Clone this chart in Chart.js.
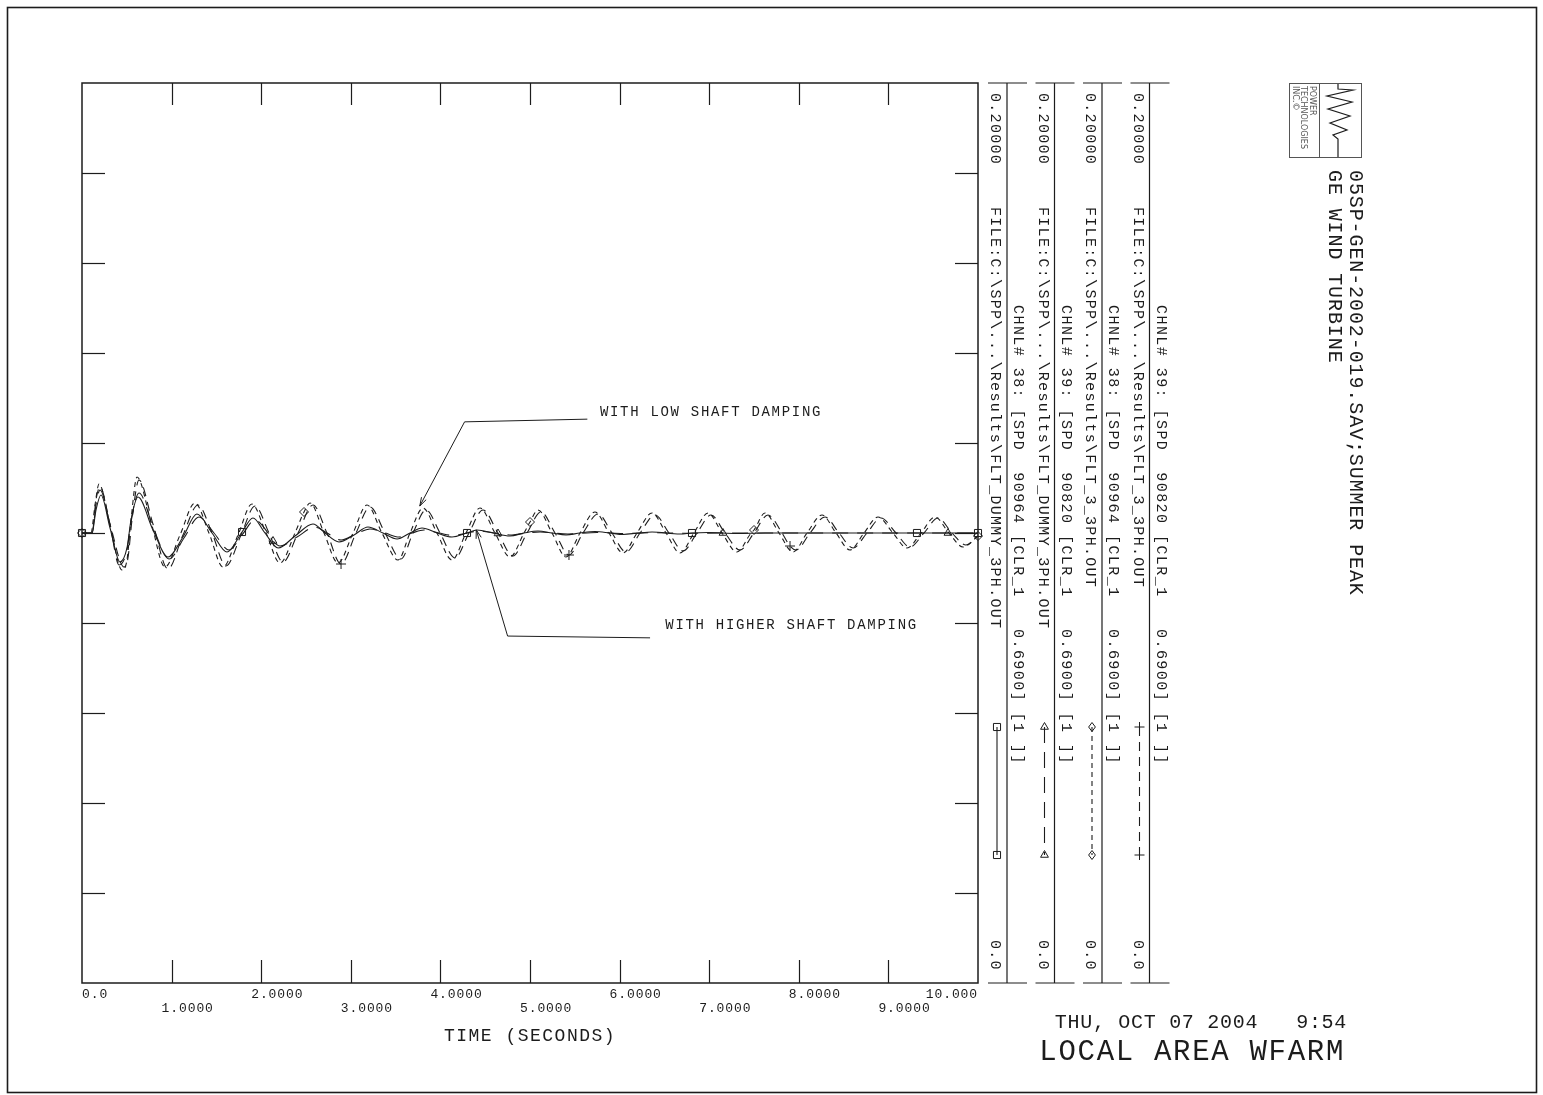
<!DOCTYPE html>
<html><head><meta charset="utf-8">
<script src="https://cdn.jsdelivr.net/npm/chart.js@4.4.1/dist/chart.umd.min.js"></script>
<style>html,body{margin:0;padding:0;background:#fff;}canvas{display:block;}</style>
</head><body>
<canvas id="c" width="1543" height="1095" style="width:1543px;height:1095px"></canvas>
<script>
// ---------- DATA (time in seconds, speed value) ----------
const xTickLabels = ['0.0','1.0000','2.0000','3.0000','4.0000','5.0000','6.0000','7.0000','8.0000','9.0000','10.000'];
const xAxisTitle = 'TIME (SECONDS)';
const titleLines = ['05SP-GEN-2002-019.SAV;SUMMER PEAK', 'GE WIND TURBINE'];
const footerDate = 'THU, OCT 07 2004   9:54';
const footerTitle = 'LOCAL AREA WFARM';
const seriesFiles = ['FILE:C:\\SPP\\...\\Results\\FLT_DUMMY_3PH.OUT','FILE:C:\\SPP\\...\\Results\\FLT_DUMMY_3PH.OUT','FILE:C:\\SPP\\...\\Results\\FLT_3_3PH.OUT','FILE:C:\\SPP\\...\\Results\\FLT_3_3PH.OUT'];
const seriesChannels = ['CHNL# 38: [SPD  90964 [CLR_1   0.6900] [1 ]]','CHNL# 39: [SPD  90820 [CLR_1   0.6900] [1 ]]','CHNL# 38: [SPD  90964 [CLR_1   0.6900] [1 ]]','CHNL# 39: [SPD  90820 [CLR_1   0.6900] [1 ]]'];
const annotationTexts = ['WITH LOW SHAFT DAMPING','WITH HIGHER SHAFT DAMPING'];

// FLT_DUMMY, channel 38 (solid, squares)
const chan38Dummy = [[0,0.1],[0.112,0.1],[0.156,0.10511],[0.212,0.10844],[0.313,0.10111],[0.424,0.09356],[0.502,0.09667],[0.547,0.10289],[0.625,0.108],[0.792,0.10067],[0.960,0.09467],[1.127,0.09911],[1.283,0.10422],[1.451,0.1],[1.618,0.09578],[1.786,0.10022],[1.908,0.10333],[2.042,0.1],[2.188,0.09667],[2.377,0.09933],[2.578,0.102],[2.712,0.1],[2.868,0.098],[3.036,0.09956],[3.192,0.10133],[3.359,0.1],[3.516,0.09867],[3.661,0.1],[3.795,0.10111],[3.962,0.1],[4.129,0.09911],[4.297,0.1],[4.408,0.10067],[4.587,0.1],[4.777,0.09933],[4.933,0.1],[5.089,0.10044],[5.246,0.1],[5.402,0.09956],[5.558,0.1],[5.725,0.10033],[5.893,0.1],[6.038,0.09967],[6.205,0.1],[6.362,0.10022],[6.674,0.09978],[6.808,0.1],[6.987,0.10011],[7.310,0.09989],[7.623,0.1],[9.319,0.1],[10,0.1]];
const marks38Dummy = [0,1.786,4.297,6.808,9.319,10];

// FLT_DUMMY, channel 39 (long dash, triangles)
const chan39Dummy = [[0,0.1],[0.112,0.1],[0.156,0.10622],[0.201,0.10956],[0.313,0.10178],[0.413,0.09289],[0.502,0.09622],[0.547,0.10244],[0.636,0.10889],[0.804,0.10067],[0.971,0.09422],[1.138,0.09889],[1.306,0.10356],[1.473,0.1],[1.641,0.09622],[1.786,0.09956],[1.931,0.10289],[2.076,0.1],[2.132,0.09822],[2.210,0.09711],[2.400,0.09911],[2.600,0.10133],[2.734,0.1],[2.891,0.09844],[3.058,0.09978],[3.214,0.10089],[3.382,0.1],[3.538,0.09911],[3.683,0.1],[3.817,0.10067],[3.984,0.1],[4.152,0.09944],[4.297,0.1],[4.431,0.10044],[4.609,0.1],[4.643,0.09989],[4.799,0.09956],[4.955,0.1],[5.112,0.10022],[5.424,0.09978],[5.748,0.10011],[6.060,0.09989],[6.384,0.10007],[6.696,0.09993],[7.154,0.1],[7.344,0.1],[9.665,0.1],[10,0.1]];
const marks39Dummy = [2.132,4.643,7.154,9.665];

// FLT_3, channel 38 (short dash, diamonds)
const chan38Flt3 = [[0,0.1],[0.1,0.1],[0.145,0.10622],[0.190,0.11089],[0.313,0.10178],[0.446,0.09178],[0.502,0.094],[0.547,0.10289],[0.614,0.11244],[0.770,0.10244],[0.926,0.09244],[1.094,0.09956],[1.261,0.10667],[1.417,0.1],[1.574,0.09244],[1.741,0.09956],[1.897,0.10644],[2.054,0.1],[2.210,0.09333],[2.377,0.1],[2.478,0.10467],[2.545,0.10667],[2.701,0.1],[2.857,0.09333],[3.025,0.1],[3.181,0.10622],[3.348,0.1],[3.527,0.094],[3.661,0.1],[3.806,0.10556],[3.962,0.1],[4.129,0.094],[4.286,0.1],[4.442,0.10556],[4.609,0.1],[4.777,0.09467],[4.933,0.1],[5.0,0.10244],[5.089,0.10511],[5.246,0.1],[5.402,0.09467],[5.558,0.1],[5.725,0.10467],[5.882,0.1],[6.038,0.09556],[6.194,0.1],[6.362,0.10444],[6.518,0.1],[6.674,0.09556],[6.830,0.1],[6.987,0.10444],[7.143,0.1],[7.310,0.09578],[7.467,0.1],[7.5,0.10067],[7.623,0.10444],[7.779,0.1],[7.935,0.09578],[8.092,0.1],[8.259,0.104],[8.415,0.1],[8.571,0.09622],[8.728,0.1],[8.884,0.10356],[9.051,0.1],[9.208,0.09667],[9.364,0.1],[9.520,0.10356],[9.676,0.1],[9.833,0.09689],[10,0.09933]];
const marks38Flt3 = [0,2.478,5.0,7.5,10];

// FLT_3, channel 39 (dash, plus)
const chan39Flt3 = [[0,0.1],[0.112,0.1],[0.156,0.10733],[0.201,0.11022],[0.324,0.10111],[0.469,0.09244],[0.513,0.09444],[0.558,0.10289],[0.636,0.11178],[0.792,0.102],[0.960,0.092],[1.127,0.09956],[1.295,0.10622],[1.451,0.1],[1.607,0.09267],[1.775,0.09956],[1.931,0.106],[2.087,0.1],[2.243,0.09356],[2.411,0.1],[2.578,0.10622],[2.734,0.1],[2.891,0.09311],[3.058,0.1],[3.214,0.10578],[3.382,0.1],[3.560,0.09422],[3.694,0.1],[3.839,0.10511],[3.996,0.1],[4.163,0.09444],[4.319,0.1],[4.475,0.10511],[4.643,0.1],[4.810,0.09489],[4.967,0.1],[5.123,0.10467],[5.279,0.1],[5.435,0.09511],[5.592,0.1],[5.759,0.10422],[5.915,0.1],[6.071,0.09578],[6.228,0.1],[6.395,0.104],[6.551,0.1],[6.708,0.096],[6.864,0.1],[7.020,0.104],[7.176,0.1],[7.344,0.09622],[7.5,0.1],[7.656,0.104],[7.813,0.1],[7.902,0.09711],[7.969,0.09622],[8.125,0.1],[8.292,0.10356],[8.449,0.1],[8.605,0.09667],[8.761,0.1],[8.917,0.10333],[9.085,0.1],[9.241,0.09689],[9.397,0.1],[9.554,0.10333],[9.710,0.1],[9.866,0.09733],[10,0.09933]];
const marks39Flt3 = [2.891,5.435,7.902];

const yMin = 0.0, yMax = 0.2;

// annotation anchors in data units: [time, value]
const annLowPath = [[5.64,0.1253],[4.27,0.1247],[3.77,0.1060]];
const annLowText = [5.78,0.1269];
const annHighPath = [[6.34,0.0767],[4.75,0.0771],[4.40,0.1007]];
const annHighText = [6.51,0.0796];

// ---------- STYLE ----------
const INK = '#1c1c1c';
const styles = [
  {pt:'rect', dash:[], r:5},
  {pt:'triangle', dash:[16,9], r:4.5},
  {pt:'rectRot', dash:[5,4], r:4.5},
  {pt:'cross', dash:[9,6], r:5}
];
const allSeries = [chan38Dummy, chan39Dummy, chan38Flt3, chan39Flt3];
const allMarks = [marks38Dummy, marks39Dummy, marks38Flt3, marks39Flt3];

function makeDataset(pairs, marks, st) {
  return {
    data: pairs.map(p => ({x:p[0], y:p[1]})),
    borderColor: INK, borderWidth: 1.1, borderDash: st.dash,
    cubicInterpolationMode: 'monotone', fill: false, clip: false,
    pointStyle: st.pt,
    pointRadius: c => (c.raw && marks.includes(c.raw.x)) ? st.r : 0,
    pointHoverRadius: 0,
    pointBorderColor: INK, pointBackgroundColor: 'rgba(255,255,255,0)', pointBorderWidth: 1
  };
}

function mono(px){ return px + 'px "Liberation Mono", "DejaVu Sans Mono", monospace'; }

function hText(ctx, s, x, y, size, sp, align) {
  ctx.save();
  ctx.font = mono(size); ctx.letterSpacing = sp + 'px';
  ctx.textBaseline = 'middle'; ctx.fillStyle = INK;
  let w = ctx.measureText(s).width;
  let x0 = align === 'right' ? x - w : (align === 'center' ? x - w/2 : x);
  ctx.textAlign = 'left';
  ctx.fillText(s, x0, y);
  ctx.restore();
}
function vText(ctx, s, x, y0, size, sp) {
  ctx.save();
  ctx.translate(x, y0); ctx.rotate(Math.PI/2);
  ctx.font = mono(size); ctx.letterSpacing = sp + 'px';
  ctx.textBaseline = 'middle'; ctx.textAlign = 'left'; ctx.fillStyle = INK;
  ctx.fillText(s, 0, 0);
  ctx.restore();
}
function seg(ctx, x1, y1, x2, y2) { ctx.beginPath(); ctx.moveTo(x1,y1); ctx.lineTo(x2,y2); ctx.stroke(); }
function marker(ctx, pt, x, y, r) {
  ctx.save(); ctx.setLineDash([]); ctx.lineWidth = 1; ctx.strokeStyle = INK;
  ctx.beginPath();
  if (pt === 'rect') { const s = r*Math.SQRT1_2; ctx.rect(x-s, y-s, 2*s, 2*s); }
  else if (pt === 'triangle') { ctx.moveTo(x, y-r); ctx.lineTo(x+r*0.87, y+r*0.5); ctx.lineTo(x-r*0.87, y+r*0.5); ctx.closePath(); }
  else if (pt === 'rectRot') { ctx.moveTo(x, y-r); ctx.lineTo(x+r*0.75, y); ctx.lineTo(x, y+r); ctx.lineTo(x-r*0.75, y); ctx.closePath(); }
  else { ctx.moveTo(x-r, y); ctx.lineTo(x+r, y); ctx.moveTo(x, y-r); ctx.lineTo(x, y+r); }
  ctx.stroke(); ctx.restore();
}
function arrowHead(ctx, fx, fy, tx, ty) {
  const a = Math.atan2(ty-fy, tx-fx), L = 9;
  seg(ctx, tx, ty, tx - L*Math.cos(a-0.3), ty - L*Math.sin(a-0.3));
  seg(ctx, tx, ty, tx - L*Math.cos(a+0.3), ty - L*Math.sin(a+0.3));
}

const deco = {
  id: 'deco',
  afterDraw(chart) {
    const {ctx, chartArea: ca, scales: {x, y}} = chart;
    ctx.save();
    ctx.strokeStyle = INK; ctx.fillStyle = INK;
    // page border
    ctx.lineWidth = 1.6; ctx.strokeRect(7.5, 7.5, 1529, 1085);
    // plot frame
    ctx.lineWidth = 1.5; ctx.strokeRect(ca.left, ca.top, ca.right-ca.left, ca.bottom-ca.top);
    ctx.lineWidth = 1.2;
    // inner ticks
    x.ticks.forEach(tk => {
      if (tk.value <= x.min || tk.value >= x.max) return;
      const px = Math.round(x.getPixelForValue(tk.value)) + 0.5;
      seg(ctx, px, ca.bottom, px, ca.bottom - 23);
      seg(ctx, px, ca.top, px, ca.top + 22);
    });
    y.ticks.forEach(tk => {
      if (tk.value <= y.min + 1e-9 || tk.value >= y.max - 1e-9) return;
      const py = Math.round(y.getPixelForValue(tk.value)) + 0.5;
      seg(ctx, ca.left, py, ca.left + 23, py);
      seg(ctx, ca.right, py, ca.right - 23, py);
    });
    // x tick labels (alternating rows)
    x.ticks.forEach((tk, i) => {
      const px = x.getPixelForValue(tk.value);
      const lab = xTickLabels[i];
      const yy = (i % 2 === 0) ? ca.bottom + 12 : ca.bottom + 26;
      if (i === 0) hText(ctx, lab, px, yy, 13, 0.9, 'left');
      else if (i === x.ticks.length - 1) hText(ctx, lab, px, yy, 13, 0.9, 'right');
      else hText(ctx, lab, px - 10, yy, 13, 0.9, 'left');
    });
    hText(ctx, xAxisTitle, (ca.left + ca.right)/2 + 0, ca.bottom + 53, 18, 1.5, 'center');

    // annotations
    ctx.lineWidth = 1;
    [[annLowPath, annLowText, annotationTexts[0]], [annHighPath, annHighText, annotationTexts[1]]].forEach(([path, tp, txt]) => {
      const pts = path.map(p => [x.getPixelForValue(p[0]), y.getPixelForValue(p[1])]);
      ctx.beginPath(); ctx.moveTo(pts[0][0], pts[0][1]);
      for (let k = 1; k < pts.length; k++) ctx.lineTo(pts[k][0], pts[k][1]);
      ctx.stroke();
      const n = pts.length;
      arrowHead(ctx, pts[n-2][0], pts[n-2][1], pts[n-1][0], pts[n-1][1]);
      hText(ctx, txt, x.getPixelForValue(tp[0]), y.getPixelForValue(tp[1]), 14, 1.7, 'left');
    });

    // legend blocks (rotated)
    const centers = [1007, 1054.5, 1102, 1149.5];
    const topLab = yMax.toFixed(5), botLab = yMin.toFixed(1);
    centers.forEach((cx, i) => {
      ctx.lineWidth = 1.2; ctx.setLineDash([]);
      seg(ctx, cx, ca.top, cx, ca.bottom);
      seg(ctx, cx - 19, ca.top, cx + 20, ca.top);
      seg(ctx, cx - 19, ca.bottom, cx + 20, ca.bottom);
      vText(ctx, topLab, cx - 12, 93, 15, 1.3);
      vText(ctx, seriesFiles[i], cx - 12, 207, 15, 1.3);
      vText(ctx, botLab, cx - 12, 940, 15, 1.3);
      vText(ctx, seriesChannels[i], cx + 11, 305, 15, 1.45);
      // sample
      const st = styles[i], sx = cx - 10;
      ctx.lineWidth = 1.1; ctx.setLineDash(st.dash);
      seg(ctx, sx, 727, sx, 855);
      ctx.setLineDash([]);
      marker(ctx, st.pt, sx, 727, st.r);
      marker(ctx, st.pt, sx, 855, st.r);
    });

    // title
    vText(ctx, titleLines[0], 1355, 170, 20, 0.9);
    vText(ctx, titleLines[1], 1334, 170, 20, 0.9);

    // logo
    ctx.lineWidth = 1; ctx.strokeStyle = '#555';
    ctx.strokeRect(1289.5, 83.5, 72, 74);
    seg(ctx, 1319.5, 83, 1319.5, 157);
    ctx.strokeStyle = INK; ctx.lineWidth = 1.2;
    const wave = [[1338,84],[1338,89],[1353,90],[1327,96],[1352,102],[1328,109],[1350,116],[1330,123],[1347,130],[1333,135],[1338,139],[1338,157]];
    ctx.beginPath(); ctx.moveTo(wave[0][0], wave[0][1]);
    wave.slice(1).forEach(p => ctx.lineTo(p[0], p[1])); ctx.stroke();
    ctx.save(); ctx.fillStyle = '#555';
    ['POWER','TECHNOLOGIES','INC.\u00A9'].forEach((s, k) => {
      ctx.save(); ctx.translate(1312 - k*8.5, 86); ctx.rotate(Math.PI/2);
      ctx.font = '8px "DejaVu Sans", sans-serif'; ctx.textBaseline = 'middle'; ctx.fillText(s, 0, 0);
      ctx.restore();
    });
    ctx.restore();

    // footer
    hText(ctx, footerDate, 1347, 1023, 20, 0.7, 'right');
    hText(ctx, footerTitle, 1345, 1052, 29, 1.7, 'right');
    ctx.restore();
  }
};

new Chart(document.getElementById('c'), {
  type: 'line',
  data: { datasets: allSeries.map((s, i) => makeDataset(s, allMarks[i], styles[i])) },
  options: {
    responsive: false, animation: false, devicePixelRatio: 1,
    layout: { padding: { left: 82, top: 83, right: 565, bottom: 112 } },
    plugins: { legend: { display: false }, tooltip: { enabled: false } },
    events: [],
    scales: {
      x: { type: 'linear', min: 0, max: 10, ticks: { display: false, stepSize: 1 }, grid: { display: false, drawTicks: false }, border: { display: false } },
      y: { type: 'linear', min: yMin, max: yMax, ticks: { display: false, stepSize: 0.02 }, grid: { display: false, drawTicks: false }, border: { display: false } }
    }
  },
  plugins: [deco]
});
</script>
</body></html>
